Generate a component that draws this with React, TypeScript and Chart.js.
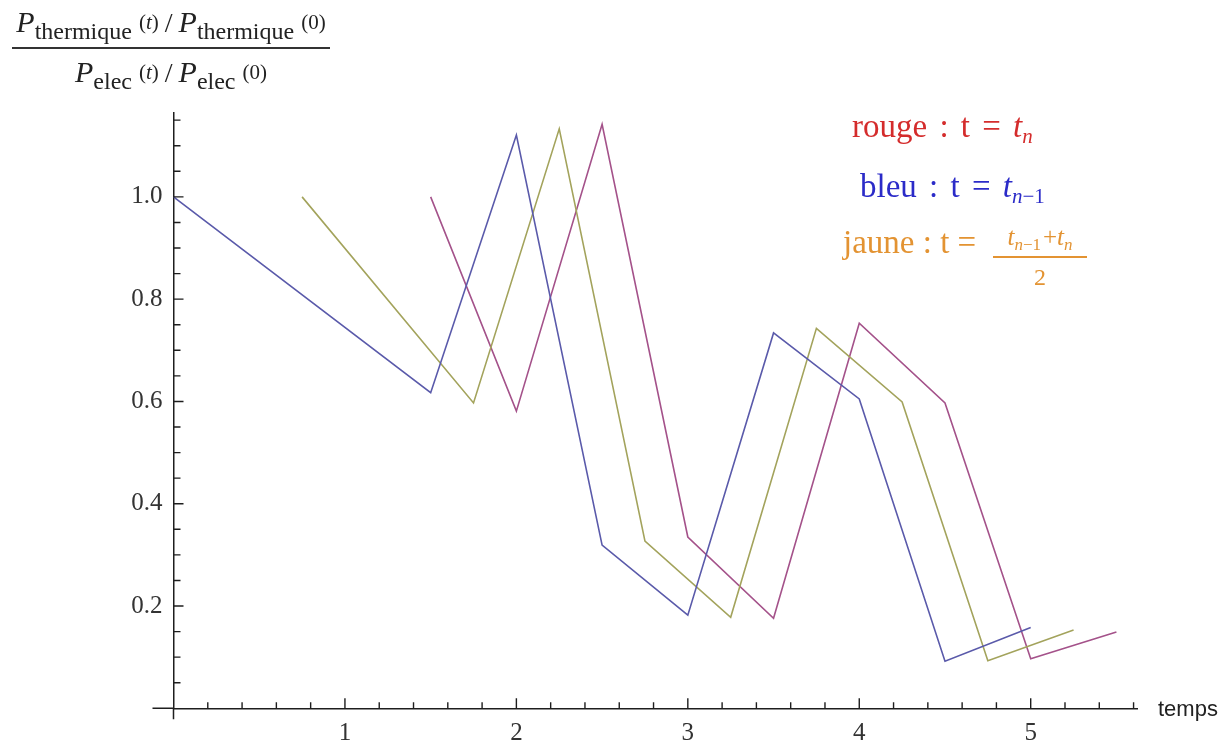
import React, { useEffect, useRef } from "react";
import { Chart, registerables } from "chart.js";

Chart.register(...registerables);

// ---- data ----
const tBleu = [0, 1.5, 2, 2.5, 3, 3.5, 4, 4.5, 5];
const bleu = [1.0, 0.617, 1.121, 0.319, 0.182, 0.734, 0.605, 0.092, 0.158];
const tJaune = [0.75, 1.75, 2.25, 2.75, 3.25, 3.75, 4.25, 4.75, 5.25];
const jaune = [1.0, 0.597, 1.133, 0.327, 0.178, 0.743, 0.599, 0.093, 0.153];
const tRouge = [1.5, 2, 2.5, 3, 3.5, 4, 4.5, 5, 5.5];
const rouge = [1.0, 0.581, 1.142, 0.335, 0.176, 0.753, 0.597, 0.097, 0.149];

const xTickLabels = ["1", "2", "3", "4", "5"];
const yTickLabels = ["0.2", "0.4", "0.6", "0.8", "1.0"];

const X_MIN = 0;
const X_MAX = 5.62;
const Y_MIN = 0;
const Y_MAX = 1.164;

const pts = (xs: number[], ys: number[]) => xs.map((x, i) => ({ x, y: ys[i] }));

const isMult = (v: number, step: number) => {
  const r = v / step;
  return Math.abs(r - Math.round(r)) < 1e-6;
};

const axisColor = "#1e1e1e";

const ticksPlugin = {
  id: "mmaTicks",
  afterDatasetsDraw(chart: any) {
    const { ctx } = chart;
    const xs = chart.scales.x;
    const ys = chart.scales.y;
    const x0 = xs.getPixelForValue(0);
    const y0 = ys.getPixelForValue(0);
    ctx.save();
    ctx.strokeStyle = axisColor;
    ctx.lineWidth = 1.5;
    ctx.beginPath();
    ctx.moveTo(x0 - 21, y0);
    ctx.lineTo(x0, y0);
    ctx.moveTo(x0, y0);
    ctx.lineTo(x0, y0 + 11);
    ctx.stroke();
    ctx.lineWidth = 1.4;
    ctx.beginPath();
    for (const t of xs.ticks) {
      if (t.value <= 0) continue;
      const px = xs.getPixelForValue(t.value);
      const len = isMult(t.value, 1) ? 10 : 6;
      ctx.moveTo(px, y0);
      ctx.lineTo(px, y0 - len);
    }
    for (const t of ys.ticks) {
      if (t.value <= 0) continue;
      const py = ys.getPixelForValue(t.value);
      const len = isMult(t.value, 0.2) ? 10 : 7;
      ctx.moveTo(x0, py);
      ctx.lineTo(x0 + len, py);
    }
    ctx.stroke();
    ctx.restore();
  },
};

const serif = "'Liberation Serif', 'Times New Roman', serif";

const PTerm = ({ sub, arg, argItalic }: { sub: string; arg: string; argItalic?: boolean }) => (
  <span>
    <span style={{ fontStyle: "italic", fontSize: 30 }}>P</span>
    <span style={{ fontSize: 24, position: "relative", top: 7 }}>{sub}</span>
    <span style={{ fontSize: 21, position: "relative", top: -3, marginLeft: 7 }}>
      (<span style={{ fontStyle: argItalic ? "italic" : "normal" }}>{arg}</span>)
    </span>
  </span>
);

export default function App() {
  const ref = useRef<HTMLCanvasElement>(null);

  useEffect(() => {
    if (!ref.current) return;
    const chart = new Chart(ref.current, {
      type: "line",
      data: {
        datasets: [
          {
            label: "bleu",
            data: pts(tBleu, bleu),
            borderColor: "#5a5aaa",
            borderWidth: 1.6,
            pointRadius: 0,
            tension: 0,
          },
          {
            label: "jaune",
            data: pts(tJaune, jaune),
            borderColor: "#a3a35c",
            borderWidth: 1.6,
            pointRadius: 0,
            tension: 0,
          },
          {
            label: "rouge",
            data: pts(tRouge, rouge),
            borderColor: "#a4528a",
            borderWidth: 1.6,
            pointRadius: 0,
            tension: 0,
          },
        ],
      },
      options: {
        animation: false,
        responsive: false,
        devicePixelRatio: 1,
        layout: { padding: { left: 0, top: 113, right: 87, bottom: 0 } },
        plugins: { legend: { display: false }, tooltip: { enabled: false }, title: { display: false } },
        scales: {
          x: {
            type: "linear",
            min: X_MIN,
            max: X_MAX,
            afterFit: (s: any) => {
              s.height = 36.7;
            },
            grid: { display: false },
            border: { display: true, color: axisColor, width: 1.5 },
            ticks: {
              stepSize: 0.2,
              includeBounds: false,
              autoSkip: false,
              maxRotation: 0,
              padding: 2,
              color: "#333",
              font: { family: serif, size: 25 },
              callback: (v: any) => {
                const n = Number(v);
                if (!isMult(n, 1)) return "";
                const s = String(Math.round(n));
                return xTickLabels.includes(s) ? s : "";
              },
            },
          },
          y: {
            type: "linear",
            min: Y_MIN,
            max: Y_MAX,
            afterFit: (s: any) => {
              s.width = 173.5;
            },
            grid: { display: false },
            border: { display: true, color: axisColor, width: 1.5 },
            ticks: {
              stepSize: 0.05,
              includeBounds: false,
              autoSkip: false,
              padding: 3,
              color: "#333",
              font: { family: serif, size: 25 },
              callback: (v: any) => {
                const n = Number(v);
                if (!isMult(n, 0.2)) return "";
                const s = n.toFixed(1);
                return yTickLabels.includes(s) ? s : "";
              },
            },
          },
        },
      },
      plugins: [ticksPlugin],
    } as any);
    return () => chart.destroy();
  }, []);

  const sp = (w: number) => <span style={{ display: "inline-block", width: w }} />;

  return (
    <div style={{ position: "absolute", left: 0, top: 0, width: 1224, height: 745, background: "#fff", overflow: "hidden" }}>
      <canvas ref={ref} width={1224} height={745} style={{ position: "absolute", left: 0, top: 0 }} />

      {/* y-axis label: fraction */}
      <div style={{ position: "absolute", left: 6, top: 4, width: 330, textAlign: "center", fontFamily: serif, color: "#222", whiteSpace: "nowrap", lineHeight: "36px" }}>
        <PTerm sub="thermique" arg="t" argItalic />
        <span style={{ fontSize: 28, margin: "0 6px" }}>/</span>
        <PTerm sub="thermique" arg="0" />
      </div>
      <div style={{ position: "absolute", left: 12, top: 47, width: 318, height: 1.6, background: "#333" }} />
      <div style={{ position: "absolute", left: 12, top: 54, width: 318, textAlign: "center", fontFamily: serif, color: "#222", whiteSpace: "nowrap", lineHeight: "36px" }}>
        <PTerm sub="elec" arg="t" argItalic />
        <span style={{ fontSize: 28, margin: "0 6px" }}>/</span>
        <PTerm sub="elec" arg="0" />
      </div>

      {/* x-axis label */}
      <div style={{ position: "absolute", left: 1158, top: 696, fontFamily: "'Liberation Sans', Arial, sans-serif", fontSize: 22, color: "#222" }}>temps</div>

      {/* annotations */}
      <div style={{ position: "absolute", left: 852, top: 106, fontFamily: serif, fontSize: 33, color: "#d42c2c", whiteSpace: "nowrap", lineHeight: "40px" }}>
        rouge{sp(4)} :{sp(4)} t{sp(4)} ={sp(4)} <i>t</i>
        <span style={{ fontSize: 21, fontStyle: "italic", position: "relative", top: 6 }}>n</span>
      </div>
      <div style={{ position: "absolute", left: 860, top: 166, fontFamily: serif, fontSize: 33, color: "#2b2bc8", whiteSpace: "nowrap", lineHeight: "40px" }}>
        bleu{sp(4)} :{sp(4)} t{sp(4)} ={sp(4)} <i>t</i>
        <span style={{ fontSize: 21, position: "relative", top: 6 }}>
          <i>n</i>−1
        </span>
      </div>
      <div style={{ position: "absolute", left: 843, top: 222, fontFamily: serif, fontSize: 33, color: "#e39332", whiteSpace: "nowrap", lineHeight: "40px" }}>
        jaune : t =
      </div>
      <div style={{ position: "absolute", left: 990, top: 223, width: 100, textAlign: "center", fontFamily: serif, fontSize: 25, color: "#e39332", whiteSpace: "nowrap", lineHeight: "28px" }}>
        <i>t</i>
        <span style={{ fontSize: 17, position: "relative", top: 5 }}>
          <i>n</i>−1
        </span>
        {sp(2)}+<i>t</i>
        <span style={{ fontSize: 17, fontStyle: "italic", position: "relative", top: 5 }}>n</span>
      </div>
      <div style={{ position: "absolute", left: 993, top: 256, width: 94, height: 1.6, background: "#e39332" }} />
      <div style={{ position: "absolute", left: 993, top: 263, width: 94, textAlign: "center", fontFamily: serif, fontSize: 24, color: "#e39332", lineHeight: "28px" }}>
        2
      </div>
    </div>
  );
}
